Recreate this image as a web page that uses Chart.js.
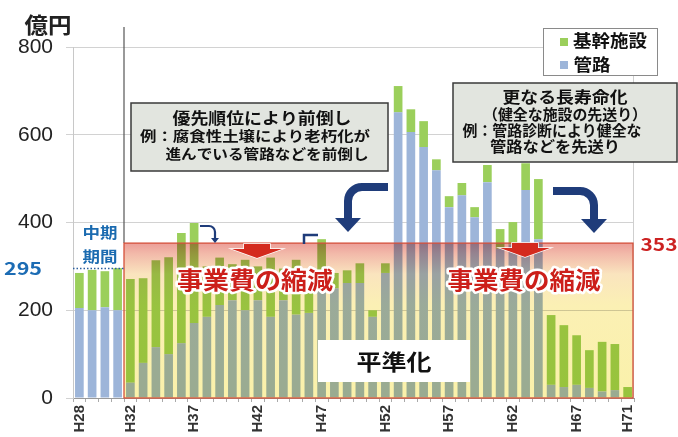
<!DOCTYPE html>
<html lang="ja">
<head>
<meta charset="utf-8">
<title>事業費の平準化</title>
<script src="https://cdn.jsdelivr.net/npm/chart.js@4/dist/chart.umd.min.js"></script>
<style>
    html, body { margin: 0; padding: 0; background: #fff; }
    #chart { display: block; }
</style>
</head>
<body>
<canvas id="chart" width="678" height="437"></canvas>
<script>
// Years (平成)
const years = [
    'H28', 'H29', 'H30', 'H31', 'H32', 'H33', 'H34', 'H35', 'H36', 'H37',
    'H38', 'H39', 'H40', 'H41', 'H42', 'H43', 'H44', 'H45', 'H46', 'H47',
    'H48', 'H49', 'H50', 'H51', 'H52', 'H53', 'H54', 'H55', 'H56', 'H57',
    'H58', 'H59', 'H60', 'H61', 'H62', 'H63', 'H64', 'H65', 'H66', 'H67',
    'H68', 'H69', 'H70', 'H71'
];
// 管路 (億円)
const pipes = [
    205, 200, 207, 200, 35, 80, 116, 100, 125, 171,
    185, 212, 223, 200, 223, 185, 223, 190, 194, 290,
    250, 262, 262, 185, 285, 651, 606, 572, 519, 435,
    462, 412, 492, 340, 350, 474, 362, 30, 25, 30,
    23, 15, 18, 0
];
// 基幹施設 (億円)
const plants = [
    80, 92, 82, 96, 236, 193, 198, 221, 251, 228,
    115, 108, 82, 115, 77, 135, 72, 125, 56, 72,
    35, 29, 45, 15, 22, 60, 52, 59, 25, 25,
    28, 23, 39, 45, 51, 61, 137, 159, 141, 113,
    86, 113, 105, 25
];
const shownTicks = ['H28', 'H32', 'H37', 'H42', 'H47', 'H52', 'H57', 'H62', 'H67', 'H71'];
const midTermLevel = 295;
const capLevel = 353;
const firstCutYear = 'H32';

const JP = '"Noto Sans CJK JP", "Noto Sans", sans-serif';
const NAVY = '#1f3c7a';
const RED = '#d42a1e';

// draw bold text squeezed/stretched to a given width
function fitText(ctx, str, cx, cy, w, size, color, outline) {
    ctx.save();
    ctx.font = 'bold ' + size + 'px ' + JP;
    const natural = ctx.measureText(str).width;
    ctx.translate(cx, cy);
    ctx.scale(w / natural, 1);
    ctx.textAlign = 'center';
    ctx.textBaseline = 'middle';
    if (outline) {
        ctx.lineJoin = 'round';
        ctx.lineWidth = outline;
        ctx.strokeStyle = '#fff';
        ctx.strokeText(str, 0, 0);
    }
    ctx.fillStyle = color;
    ctx.fillText(str, 0, 0);
    ctx.restore();
}

function noteBox(ctx, x1, y1, x2, y2, lines) {
    ctx.save();
    ctx.fillStyle = '#e2e5df';
    ctx.strokeStyle = '#3a3a3a';
    ctx.lineWidth = 1.5;
    ctx.fillRect(x1, y1, x2 - x1, y2 - y1);
    ctx.strokeRect(x1, y1, x2 - x1, y2 - y1);
    ctx.restore();
    lines.forEach(function(l) {
        fitText(ctx, l[0], l[1], l[2], l[3], l[4], '#111');
    });
}

// thick navy bent arrow: horizontal run then down
function bentArrow(ctx, xs, y, xc, yEnd, lw, head) {
    ctx.save();
    ctx.strokeStyle = NAVY;
    ctx.fillStyle = NAVY;
    ctx.lineWidth = lw;
    const r = Math.abs(xs - xc) > 20 ? 14 : 6;
    ctx.beginPath();
    ctx.moveTo(xs, y);
    ctx.arcTo(xc, y, xc, y + r, r);
    ctx.lineTo(xc, yEnd - head);
    ctx.stroke();
    ctx.beginPath();
    ctx.moveTo(xc - head, yEnd - head - 1);
    ctx.lineTo(xc + head, yEnd - head - 1);
    ctx.lineTo(xc, yEnd);
    ctx.closePath();
    ctx.fill();
    ctx.restore();
}

function redDownArrow(ctx, cx, top) {
    ctx.save();
    ctx.fillStyle = RED;
    ctx.strokeStyle = '#fff';
    ctx.lineWidth = 1.5;
    ctx.beginPath();
    ctx.moveTo(cx - 13, top);
    ctx.lineTo(cx + 13, top);
    ctx.lineTo(cx + 13, top + 5);
    ctx.lineTo(cx + 25, top + 5);
    ctx.lineTo(cx, top + 14);
    ctx.lineTo(cx - 25, top + 5);
    ctx.lineTo(cx - 13, top + 5);
    ctx.closePath();
    ctx.stroke();
    ctx.fill();
    ctx.restore();
}

const decorations = {
    id: 'decorations',
    afterDatasetsDraw(chart) {
        const ctx = chart.ctx;
        const area = chart.chartArea;
        const x = chart.scales.x;
        const y = chart.scales.y;
        const step = x.getPixelForValue(1) - x.getPixelForValue(0);
        const bandLeft = x.getPixelForValue(years.indexOf(firstCutYear)) - step / 2;
        const bandTop = y.getPixelForValue(capLevel);
        const bandRight = area.right - 1;
        const bottom = area.bottom;

        // plot right border and the mid-term divider
        ctx.save();
        ctx.strokeStyle = '#cfcfcf';
        ctx.lineWidth = 1;
        ctx.beginPath();
        ctx.moveTo(area.right - 0.5, area.top);
        ctx.lineTo(area.right - 0.5, bottom);
        ctx.stroke();
        ctx.strokeStyle = '#555';
        ctx.lineWidth = 1.2;
        ctx.beginPath();
        ctx.moveTo(bandLeft, 27);
        ctx.lineTo(bandLeft, bandTop);
        ctx.stroke();
        ctx.restore();

        // shaded cap band (multiply so bars show through)
        ctx.save();
        const g = ctx.createLinearGradient(0, bandTop, 0, bottom);
        g.addColorStop(0, 'rgb(236,158,152)');
        g.addColorStop(0.07, 'rgb(242,186,170)');
        g.addColorStop(0.2, 'rgb(250,228,190)');
        g.addColorStop(0.4, 'rgb(251,240,180)');
        g.addColorStop(1, 'rgb(250,241,170)');
        ctx.globalCompositeOperation = 'multiply';
        ctx.fillStyle = g;
        ctx.fillRect(bandLeft, bandTop, bandRight - bandLeft, bottom - bandTop);
        ctx.restore();

        ctx.save();
        ctx.strokeStyle = '#d5503a';
        ctx.lineWidth = 1.3;
        ctx.strokeRect(bandLeft, bandTop, bandRight - bandLeft, bottom - bandTop);
        ctx.restore();

        // mid-term average line
        const yMid = y.getPixelForValue(midTermLevel);
        ctx.save();
        ctx.strokeStyle = '#2c5f9e';
        ctx.lineWidth = 1.5;
        ctx.setLineDash([1.5, 2]);
        ctx.beginPath();
        ctx.moveTo(area.left, yMid);
        ctx.lineTo(bandLeft, yMid);
        ctx.stroke();
        ctx.restore();
        fitText(ctx, '295', 23, yMid, 38, 17, '#1c6cb4');
        fitText(ctx, '中期', 100, 232, 35, 15, '#1b6bb0');
        fitText(ctx, '期間', 100, 256, 35, 15, '#1b6bb0');
        fitText(ctx, '353', 659, bandTop + 1, 37, 17, '#cc2222');

        // 平準化 box
        ctx.save();
        ctx.fillStyle = '#fff';
        ctx.fillRect(318, 340, 152, 42);
        ctx.restore();
        fitText(ctx, '平準化', 394, 362, 75, 22, '#111');

        fitText(ctx, '事業費の縮減', 255, 280, 156, 24, '#cc1f1a', 5);
        fitText(ctx, '事業費の縮減', 524, 280, 153, 24, '#cc1f1a', 5);
        redDownArrow(ctx, 257, 244);
        redDownArrow(ctx, 525, 243);

        // notes
        noteBox(ctx, 131, 103, 388, 171, [
            ['優先順位により前倒し', 262, 118, 179, 16],
            ['例：腐食性土壌により老朽化が', 255, 136, 230, 14],
            ['進んでいる管路などを前倒し', 267, 154, 203, 14]
        ]);
        noteBox(ctx, 453, 83, 677, 162, [
            ['更なる長寿命化', 565, 97, 125, 16],
            ['（健全な施設の先送り）', 565, 114, 164, 15],
            ['例：管路診断により健全な', 552, 130, 179, 15],
            ['管路などを先送り', 555, 146, 130, 15]
        ]);

        // navy arrows
        bentArrow(ctx, 388, 187, 348, 232, 8, 13);
        bentArrow(ctx, 553, 191, 594, 233, 8, 13);
        bentArrow(ctx, 200, 226, 215, 243, 2.2, 4);
        ctx.save();
        ctx.strokeStyle = NAVY;
        ctx.lineWidth = 2.5;
        ctx.beginPath();
        ctx.moveTo(304, 244);
        ctx.lineTo(304, 235);
        ctx.lineTo(318, 235);
        ctx.stroke();
        ctx.restore();

        // legend
        ctx.save();
        ctx.fillStyle = '#fff';
        ctx.strokeStyle = '#8a8a8a';
        ctx.lineWidth = 1;
        ctx.fillRect(543, 28, 114, 47);
        ctx.strokeRect(543.5, 28.5, 114, 47);
        ctx.fillStyle = chart.data.datasets[1].backgroundColor;
        ctx.fillRect(560, 38, 8, 8);
        ctx.fillStyle = chart.data.datasets[0].backgroundColor;
        ctx.fillRect(560, 61, 8, 8);
        ctx.restore();
        fitText(ctx, chart.data.datasets[1].label, 610, 41, 74, 17, '#111');
        fitText(ctx, chart.data.datasets[0].label, 592, 65, 37, 17, '#111');

        // unit
        fitText(ctx, '億円', 48, 25, 47, 22, '#222');
    }
};

const ctx = document.getElementById('chart').getContext('2d');
const chart = new Chart(ctx, {
    type: 'bar',
    data: {
        labels: years,
        datasets: [{
            label: '管路',
            data: pipes,
            backgroundColor: '#9db5d9',
            barPercentage: 0.68,
            categoryPercentage: 1
        }, {
            label: '基幹施設',
            data: plants,
            backgroundColor: '#9bcf5b',
            barPercentage: 0.68,
            categoryPercentage: 1
        }]
    },
    options: {
        responsive: false,
        animation: false,
        layout: { padding: { top: 47, right: 44, left: 0, bottom: 0 } },
        plugins: {
            legend: { display: false },
            tooltip: { enabled: false }
        },
        scales: {
            x: {
                stacked: true,
                grid: { offset: true, drawOnChartArea: false, tickLength: 4, color: '#aaa' },
                border: { color: '#999' },
                ticks: {
                    autoSkip: false,
                    minRotation: 90,
                    maxRotation: 90,
                    padding: 3,
                    color: '#333',
                    font: { family: 'Liberation Sans', size: 15, weight: 'bold' },
                    callback: function(v) {
                        const l = this.getLabelForValue(v);
                        return shownTicks.includes(l) ? l : '';
                    }
                },
                afterFit: function(scale) { scale.height = 39; }
            },
            y: {
                stacked: true,
                min: 0,
                max: 800,
                grid: { color: '#d2d2d2', tickLength: 7 },
                border: { color: '#c8c8c8' },
                ticks: {
                    stepSize: 200,
                    padding: 13,
                    color: '#222',
                    font: { family: 'Liberation Sans', size: 21 }
                },
                afterFit: function(scale) { scale.width = 73; }
            }
        }
    },
    plugins: [decorations]
});
</script>
</body>
</html>
